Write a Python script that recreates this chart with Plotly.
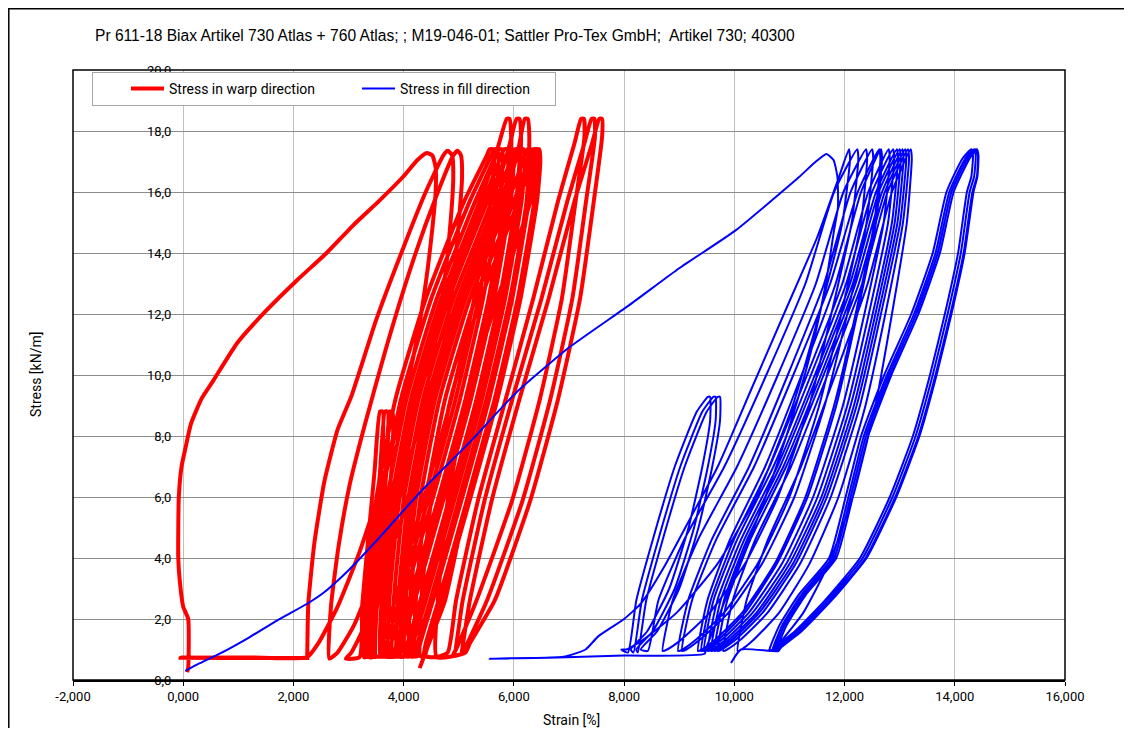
import plotly.graph_objects as go

# ---------------- data (strain [%], stress [kN/m]) ----------------
x_tick_values = [-2, 0, 2, 4, 6, 8, 10, 12, 14, 16]
x_tick_labels = ["-2,000", "0,000", "2,000", "4,000", "6,000", "8,000", "10,000", "12,000", "14,000", "16,000"]
y_tick_values = [0, 2, 4, 6, 8, 10, 12, 14, 16, 18, 20]
y_tick_labels = ["0,0", "2,0", "4,0", "6,0", "8,0", "10,0", "12,0", "14,0", "16,0", "18,0", "20,0"]

warp_initial = [(0.07, 0.26), (0.09, 0.40), (0.09, 2.00), (0.0, 2.40), (-0.06, 3.20), (-0.09, 4.00), (-0.08, 6.00),
                (-0.03, 7.00), (0.04, 7.60), (0.14, 8.40), (0.34, 9.25), (0.54, 9.80), (0.98, 11.05), (1.50, 12.10),
                (2.06, 13.10), (2.60, 14.00), (3.08, 14.90), (3.55, 15.70), (3.99, 16.50), (4.25, 17.05), (4.42, 17.28),
                (4.52, 17.20), (4.58, 16.80), (4.58, 16.00), (4.52, 14.80), (4.40, 13.00), (4.22, 11.00), (3.95, 8.80),
                (3.60, 6.40), (3.20, 4.20), (2.80, 2.40), (2.45, 1.20), (2.25, 0.75), (1.20, 0.74), (-0.05, 0.73),
                (1.50, 0.72), (2.25, 0.72)]

warp_left_loops = [(2.25, 0.72), (2.27, 2.50), (2.38, 4.50), (2.56, 6.50), (2.80, 8.20), (3.05, 9.30), (3.50, 11.80),
                   (4.00, 14.20), (4.40, 16.00), (4.72, 17.20), (4.80, 17.35), (4.88, 17.20), (4.90, 16.50),
                   (4.85, 15.00), (4.72, 12.80), (4.52, 10.50), (4.25, 8.20), (3.90, 5.80), (3.50, 3.60), (3.10, 1.80),
                   (2.80, 0.90), (2.65, 0.70),
                   (2.68, 2.40), (2.82, 4.40), (3.02, 6.40), (3.30, 8.40), (3.70, 11.00), (4.18, 13.80), (4.60, 15.90),
                   (4.90, 17.20), (4.98, 17.35), (5.04, 17.20), (5.06, 16.50), (5.00, 15.00), (4.88, 12.80),
                   (4.68, 10.50), (4.40, 8.20), (4.05, 5.80), (3.65, 3.60), (3.30, 1.80), (3.05, 0.90), (2.95, 0.70)]

warp_small_loops = [(3.20, 0.75), (3.25, 2.50), (3.35, 4.50), (3.47, 6.80), (3.57, 8.80), (3.62, 8.80), (3.62, 7.60),
                    (3.55, 5.80), (3.45, 4.00), (3.33, 2.30), (3.25, 1.00), (3.28, 0.75),
                    (3.30, 0.75), (3.35, 2.50), (3.45, 4.50), (3.57, 6.80), (3.66, 8.80), (3.71, 8.80), (3.71, 7.60),
                    (3.64, 5.80), (3.54, 4.00), (3.42, 2.30), (3.35, 1.00), (3.38, 0.75),
                    (3.40, 0.75), (3.45, 2.50), (3.55, 4.50), (3.67, 6.80), (3.75, 8.80), (3.80, 8.80), (3.80, 7.60),
                    (3.73, 5.80), (3.63, 4.00), (3.51, 2.30), (3.45, 1.00), (3.45, 0.75)]

warp_main_loops = [
    (3.30, 0.78), (3.32, 2.6), (3.50, 5.9), (3.85, 9.2), (4.40, 12.5), (5.10, 15.7), (5.51, 17.2), (5.56, 17.4), (5.62, 17.4), (5.64, 17.0), (5.58, 15.7), (5.28, 12.5), (4.86, 9.2), (4.36, 5.9), (3.84, 2.6), (3.61, 1.2), (3.56, 0.78),
    (3.40, 0.78), (3.42, 2.6), (3.60, 5.9), (3.95, 9.2), (4.50, 12.5), (5.20, 15.7), (5.59, 17.2), (5.64, 17.4), (5.70, 17.4), (5.72, 17.0), (5.66, 15.7), (5.36, 12.5), (4.94, 9.2), (4.44, 5.9), (3.92, 2.6), (3.69, 1.2), (3.64, 0.78),
    (3.50, 0.78), (3.52, 2.6), (3.70, 5.9), (4.05, 9.2), (4.60, 12.5), (5.30, 15.7), (5.67, 17.2), (5.72, 17.4), (5.78, 17.4), (5.80, 17.0), (5.74, 15.7), (5.44, 12.5), (5.02, 9.2), (4.52, 5.9), (4.00, 2.6), (3.77, 1.2), (3.72, 0.78),
    (3.58, 0.78), (3.60, 2.6), (3.78, 5.9), (4.13, 9.2), (4.68, 12.5), (5.38, 15.7), (5.70, 17.4), (5.87, 18.4), (5.92, 18.4), (5.95, 17.8), (5.90, 15.7), (5.60, 12.5), (5.17, 9.2), (4.67, 5.9), (4.15, 2.6), (3.92, 1.2), (3.87, 0.78),
    (3.65, 0.78), (3.67, 2.6), (3.85, 5.9), (4.20, 9.2), (4.75, 12.5), (5.45, 15.7), (5.77, 17.2), (5.82, 17.4), (5.88, 17.4), (5.90, 17.0), (5.84, 15.7), (5.54, 12.5), (5.12, 9.2), (4.62, 5.9), (4.10, 2.6), (3.87, 1.2), (3.82, 0.78),
    (3.72, 0.78), (3.74, 2.6), (3.92, 5.9), (4.27, 9.2), (4.82, 12.5), (5.52, 15.7), (5.87, 17.2), (5.92, 17.4), (5.98, 17.4), (6.00, 17.0), (5.94, 15.7), (5.64, 12.5), (5.22, 9.2), (4.72, 5.9), (4.20, 2.6), (3.97, 1.2), (3.92, 0.78),
    (3.80, 0.78), (3.82, 2.6), (4.00, 5.9), (4.35, 9.2), (4.90, 12.5), (5.60, 15.7), (5.90, 17.4), (6.05, 18.4), (6.10, 18.4), (6.13, 17.8), (6.08, 15.7), (5.78, 12.5), (5.35, 9.2), (4.85, 5.9), (4.33, 2.6), (4.10, 1.2), (4.05, 0.78),
    (3.88, 0.78), (3.90, 2.6), (4.08, 5.9), (4.43, 9.2), (4.98, 12.5), (5.68, 15.7), (5.97, 17.2), (6.02, 17.4), (6.08, 17.4), (6.10, 17.0), (6.04, 15.7), (5.74, 12.5), (5.32, 9.2), (4.82, 5.9), (4.30, 2.6), (4.07, 1.2), (4.02, 0.78),
    (3.95, 0.78), (3.97, 2.6), (4.15, 5.9), (4.50, 9.2), (5.05, 12.5), (5.75, 15.7), (6.07, 17.2), (6.12, 17.4), (6.18, 17.4), (6.20, 17.0), (6.14, 15.7), (5.84, 12.5), (5.42, 9.2), (4.92, 5.9), (4.40, 2.6), (4.17, 1.2), (4.12, 0.78),
    (4.02, 0.78), (4.04, 2.6), (4.22, 5.9), (4.57, 9.2), (5.12, 12.5), (5.82, 15.7), (6.08, 17.4), (6.20, 18.4), (6.25, 18.4), (6.28, 17.8), (6.23, 15.7), (5.93, 12.5), (5.50, 9.2), (5.00, 5.9), (4.48, 2.6), (4.25, 1.2), (4.20, 0.78),
    (4.10, 0.78), (4.12, 2.6), (4.30, 5.9), (4.65, 9.2), (5.20, 12.5), (5.90, 15.7), (6.20, 17.2), (6.25, 17.4), (6.31, 17.4), (6.33, 17.0), (6.27, 15.7), (5.97, 12.5), (5.55, 9.2), (5.05, 5.9), (4.53, 2.6), (4.30, 1.2), (4.25, 0.78),
    (4.20, 0.78), (4.22, 2.6), (4.40, 5.9), (4.75, 9.2), (5.30, 12.5), (6.00, 15.7), (6.30, 17.2), (6.35, 17.4), (6.41, 17.4), (6.43, 17.0), (6.37, 15.7), (6.07, 12.5), (5.65, 9.2), (5.15, 5.9), (4.63, 2.6), (4.40, 1.2), (4.35, 0.78),
    (4.30, 0.78), (4.32, 2.6), (4.50, 5.9), (4.85, 9.2), (5.40, 12.5), (6.08, 15.7), (6.35, 17.2), (6.40, 17.4), (6.46, 17.4), (6.48, 17.0), (6.42, 15.7), (6.12, 12.5), (5.70, 9.2), (5.20, 5.9), (4.68, 2.6), (4.45, 1.2), (4.40, 0.78),
]

warp_right_loops = [
    (4.60, 0.75), (4.80, 0.90), (4.95, 2.6), (5.35, 5.9), (5.85, 9.2), (6.35, 12.5), (6.80, 15.7), (7.10, 17.6), (7.22, 18.4), (7.27, 18.4), (7.28, 17.8), (7.12, 15.7), (6.87, 12.5), (6.47, 9.2), (5.97, 5.9), (5.32, 2.6), (4.95, 1.0), (4.90, 0.85),
    (4.92, 0.85), (5.07, 2.6), (5.47, 5.9), (5.97, 9.2), (6.50, 12.5), (6.97, 15.7), (7.28, 17.6), (7.41, 18.4), (7.46, 18.4), (7.47, 17.8), (7.31, 15.7), (7.06, 12.5), (6.66, 9.2), (6.16, 5.9), (5.51, 2.6), (5.10, 1.0), (5.05, 0.85),
    (5.05, 0.85), (5.20, 2.6), (5.60, 5.9), (6.10, 9.2), (6.63, 12.5), (7.10, 15.7), (7.42, 17.6), (7.55, 18.4), (7.60, 18.4), (7.60, 17.8), (7.45, 15.7), (7.20, 12.5), (6.80, 9.2), (6.30, 5.9), (5.65, 2.6), (5.20, 1.2), (5.12, 0.9),
]

warp_final = [(4.60, 0.75), (4.62, 2.6), (4.80, 5.9), (5.15, 9.2), (5.70, 12.5), (6.30, 15.7), (6.40, 17.4), (6.45, 17.4),
              (6.47, 17.0), (6.40, 15.7), (6.10, 12.5), (5.65, 9.2), (5.15, 5.9), (4.75, 2.6), (4.53, 1.54), (4.29, 0.39)]

fill_initial = [(0.04, 0.30), (0.30, 0.55), (0.67, 0.87), (1.20, 1.40), (1.70, 1.95), (2.25, 2.50), (2.54, 2.85),
                (3.00, 3.60), (3.57, 4.69), (4.29, 6.14), (5.20, 7.80), (6.04, 9.42), (7.00, 10.90), (8.10, 12.30),
                (9.00, 13.50), (10.03, 14.75), (11.18, 16.50), (11.45, 16.95), (11.67, 17.25), (11.80, 17.05),
                (11.87, 16.50), (11.88, 15.50), (11.81, 14.75), (11.67, 13.10), (11.45, 11.20), (11.15, 9.20),
                (10.80, 7.20), (10.40, 5.20), (10.00, 3.40), (9.70, 2.00), (9.50, 1.10), (9.46, 0.86), (8.00, 0.80),
                (6.80, 0.74), (5.56, 0.70), (6.30, 0.72), (6.90, 0.76), (7.30, 1.00), (7.53, 1.43), (8.00, 2.00),
                (8.31, 2.52), (8.73, 3.72), (9.20, 5.30), (9.70, 7.00), (10.30, 9.50), (10.90, 12.00), (11.50, 14.50),
                (11.90, 16.50), (12.08, 17.40), (12.10, 17.10), (11.96, 15.00), (11.54, 12.00), (11.06, 9.00),
                (10.40, 6.00), (9.69, 3.80), (8.95, 2.20), (8.33, 1.30), (8.04, 1.00), (7.95, 1.00)]

fill_small_loops = [(8.07, 0.90), (8.22, 2.60), (8.52, 4.60), (8.92, 7.00), (9.32, 8.80), (9.52, 9.28), (9.56, 9.28),
                    (9.56, 8.50), (9.42, 7.00), (9.17, 5.00), (8.82, 3.00), (8.42, 1.60), (8.12, 1.00),
                    (8.17, 0.90), (8.32, 2.60), (8.62, 4.60), (9.02, 7.00), (9.42, 8.80), (9.62, 9.28), (9.66, 9.28),
                    (9.66, 8.50), (9.52, 7.00), (9.27, 5.00), (8.92, 3.00), (8.52, 1.60), (8.22, 1.00),
                    (8.25, 0.90), (8.40, 2.60), (8.70, 4.60), (9.10, 7.00), (9.50, 8.80), (9.70, 9.28), (9.74, 9.28),
                    (9.74, 8.50), (9.60, 7.00), (9.35, 5.00), (9.00, 3.00), (8.60, 1.60), (8.30, 1.00)]

fill_main_loops = [
    (8.43, 0.95), (8.62, 2.60), (9.09, 4.60), (9.82, 7.00), (10.58, 10.00), (11.29, 13.00), (11.81, 16.00), (12.23, 17.40), (12.25, 17.10), (12.13, 15.00), (11.76, 12.00), (11.36, 9.00), (10.79, 6.00), (10.19, 3.80), (9.55, 2.20), (9.02, 1.30), (8.78, 1.00),
    (8.70, 0.95), (8.88, 2.60), (9.34, 4.60), (10.05, 7.00), (10.79, 10.00), (11.48, 13.00), (11.98, 16.00), (12.39, 17.40), (12.41, 17.10), (12.30, 15.00), (11.94, 12.00), (11.54, 9.00), (11.00, 6.00), (10.42, 3.80), (9.81, 2.20), (9.29, 1.30), (9.06, 1.00),
    (8.98, 0.95), (9.16, 2.60), (9.59, 4.60), (10.27, 7.00), (10.97, 10.00), (11.63, 13.00), (12.11, 16.00), (12.50, 17.40), (12.52, 17.10), (12.40, 15.00), (12.05, 12.00), (11.64, 9.00), (11.09, 6.00), (10.50, 3.80), (9.89, 2.20), (9.36, 1.30), (9.13, 1.00),
    (9.05, 0.95), (9.23, 2.60), (9.67, 4.60), (10.36, 7.00), (11.07, 10.00), (11.74, 13.00), (12.24, 16.00), (12.63, 17.40), (12.65, 17.10), (12.54, 15.00), (12.20, 12.00), (11.81, 9.00), (11.29, 6.00), (10.73, 3.80), (10.14, 2.20), (9.64, 1.30), (9.41, 1.00),
    (9.34, 0.95), (9.51, 2.60), (9.92, 4.60), (10.56, 7.00), (11.22, 10.00), (11.84, 13.00), (12.30, 16.00), (12.66, 17.40), (12.68, 17.10), (12.57, 15.00), (12.23, 12.00), (11.85, 9.00), (11.33, 6.00), (10.77, 3.80), (10.19, 2.20), (9.70, 1.30), (9.47, 1.00),
    (9.40, 0.95), (9.57, 2.60), (9.99, 4.60), (10.64, 7.00), (11.32, 10.00), (11.96, 13.00), (12.43, 16.00), (12.80, 17.40), (12.82, 17.10), (12.71, 15.00), (12.36, 12.00), (11.97, 9.00), (11.43, 6.00), (10.86, 3.80), (10.26, 2.20), (9.76, 1.30), (9.52, 1.00),
    (9.45, 0.95), (9.62, 2.60), (10.05, 4.60), (10.71, 7.00), (11.39, 10.00), (12.03, 13.00), (12.50, 16.00), (12.88, 17.40), (12.90, 17.10), (12.79, 15.00), (12.44, 12.00), (12.05, 9.00), (11.51, 6.00), (10.94, 3.80), (10.33, 2.20), (9.83, 1.30), (9.59, 1.00),
    (9.52, 0.95), (9.69, 2.60), (10.12, 4.60), (10.78, 7.00), (11.46, 10.00), (12.10, 13.00), (12.57, 16.00), (12.95, 17.40), (12.97, 17.10), (12.86, 15.00), (12.51, 12.00), (12.11, 9.00), (11.58, 6.00), (11.00, 3.80), (10.40, 2.20), (9.89, 1.30), (9.65, 1.00),
    (9.58, 0.95), (9.75, 2.60), (10.18, 4.60), (10.83, 7.00), (11.51, 10.00), (12.15, 13.00), (12.62, 16.00), (13.00, 17.40), (13.02, 17.10), (12.91, 15.00), (12.56, 12.00), (12.17, 9.00), (11.63, 6.00), (11.06, 3.80), (10.45, 2.20), (9.95, 1.30), (9.71, 1.00),
    (9.64, 0.95), (9.81, 2.60), (10.23, 4.60), (10.89, 7.00), (11.57, 10.00), (12.20, 13.00), (12.68, 16.00), (13.05, 17.40), (13.07, 17.10), (12.96, 15.00), (12.61, 12.00), (12.22, 9.00), (11.68, 6.00), (11.11, 3.80), (10.51, 2.20), (10.01, 1.30), (9.77, 1.00),
    (9.70, 0.95), (9.87, 2.60), (10.29, 4.60), (10.94, 7.00), (11.62, 10.00), (12.26, 13.00), (12.73, 16.00), (13.10, 17.40), (13.12, 17.10), (13.01, 15.00), (12.66, 12.00), (12.28, 9.00), (11.75, 6.00), (11.19, 3.80), (10.60, 2.20), (10.10, 1.30), (9.87, 1.00),
    (9.80, 0.95), (9.97, 2.60), (10.38, 4.60), (11.03, 7.00), (11.69, 10.00), (12.32, 13.00), (12.78, 16.00), (13.15, 17.40), (13.17, 17.10), (13.06, 15.00), (12.74, 12.00), (12.38, 9.00), (11.89, 6.00), (11.36, 3.80), (10.81, 2.20), (10.34, 1.30), (10.13, 1.00),
    (10.06, 0.95), (10.22, 2.60), (10.61, 4.60), (11.21, 7.00), (11.83, 10.00), (12.42, 13.00), (12.86, 16.00), (13.20, 17.40), (13.22, 17.10), (13.13, 15.00), (12.86, 12.00), (12.56, 9.00), (12.15, 6.00), (11.71, 3.80), (11.25, 2.20), (10.86, 1.30), (10.69, 1.00),
]

fill_big_loops = [
    (10.63, 0.95), (10.82, 1.8), (11.17, 2.8), (11.72, 4.0), (12.02, 6.0), (12.30, 8.0), (12.72, 10.0), (13.21, 12.0), (13.60, 14.0), (13.85, 16.0), (14.14, 17.1), (14.30, 17.4),
    (14.33, 17.2), (14.30, 16.5), (14.22, 16.0), (14.06, 14.0), (13.82, 12.0), (13.55, 10.0), (13.24, 8.0), (12.82, 6.0), (12.28, 4.0), (11.64, 2.6), (11.10, 1.6), (10.72, 1.05),
    (10.68, 0.95), (10.87, 1.8), (11.22, 2.8), (11.77, 4.0), (12.07, 6.0), (12.35, 8.0), (12.77, 10.0), (13.26, 12.0), (13.65, 14.0), (13.90, 16.0), (14.19, 17.1), (14.35, 17.4),
    (14.38, 17.2), (14.35, 16.5), (14.27, 16.0), (14.11, 14.0), (13.87, 12.0), (13.60, 10.0), (13.29, 8.0), (12.87, 6.0), (12.33, 4.0), (11.69, 2.6), (11.15, 1.6), (10.77, 1.05),
    (10.72, 0.95), (10.91, 1.8), (11.26, 2.8), (11.81, 4.0), (12.11, 6.0), (12.39, 8.0), (12.81, 10.0), (13.30, 12.0), (13.69, 14.0), (13.94, 16.0), (14.23, 17.1), (14.38, 17.4),
    (14.42, 17.2), (14.40, 16.5), (14.32, 16.0), (14.16, 14.0), (13.92, 12.0), (13.65, 10.0), (13.34, 8.0), (12.92, 6.0), (12.38, 4.0), (11.74, 2.6), (11.20, 1.6), (10.82, 1.05),
    (10.76, 0.95), (10.95, 1.8), (11.30, 2.8), (11.85, 4.0), (12.15, 6.0), (12.43, 8.0), (12.85, 10.0), (13.34, 12.0), (13.73, 14.0), (13.98, 16.0), (14.27, 17.1), (14.40, 17.4),
    (14.43, 17.2), (14.41, 16.5), (14.34, 16.0), (14.18, 14.0), (13.94, 12.0), (13.67, 10.0), (13.36, 8.0), (12.94, 6.0), (12.40, 4.0), (11.76, 2.6), (11.22, 1.6), (10.84, 1.05), (10.80, 0.95),
]

fill_final = [(10.12, 1.00), (9.94, 0.56)]

# ---------------- assemble series ----------------
warp_points = warp_initial + warp_left_loops + warp_small_loops + warp_main_loops + warp_right_loops + warp_final
fill_points = fill_initial + fill_small_loops + fill_main_loops + fill_big_loops + fill_final
warp_strain = [p[0] for p in warp_points]
warp_stress = [p[1] for p in warp_points]
fill_strain = [p[0] for p in fill_points]
fill_stress = [p[1] for p in fill_points]

fig = go.Figure()
fig.add_trace(go.Scatter(x=warp_strain, y=warp_stress, mode="lines", name="Stress in warp direction",
                         line=dict(color="#FF0000", width=4, shape="spline", smoothing=0.5)))
fig.add_trace(go.Scatter(x=fill_strain, y=fill_stress, mode="lines", name="Stress in fill direction",
                         line=dict(color="#0000FF", width=2, shape="spline", smoothing=0.5)))

# page offset of the figure (browser body margin)
OFF = 8
W, H = 1116, 720
L, T = 73 - OFF, 70 - OFF
PW, PH = 992, 610
R = W - L - PW
B = H - T - PH


def px_x(px):
    return (px - OFF - L) / PW


def px_y(py):
    return (T + PH - (py - OFF)) / PH


fig.update_layout(
    width=W, height=H,
    margin=dict(l=L, r=R, t=T, b=B, pad=0),
    paper_bgcolor="white", plot_bgcolor="white",
    font=dict(family="Roboto, Noto Sans, sans-serif", size=13, color="black"),
    showlegend=True,
    legend=dict(orientation="h", x=px_x(92), y=px_y(72), xanchor="left", yanchor="top",
                bgcolor="white", bordercolor="#a6a6a6", borderwidth=1,
                font=dict(family="Roboto, sans-serif", size=14, color="black"),
                entrywidth=150, itemwidth=33, indentation=33, tracegroupgap=0),
    xaxis=dict(range=[-2, 16], tickmode="array", tickvals=x_tick_values, ticktext=x_tick_labels,
               showgrid=True, gridcolor="#c0c0c0", gridwidth=1, zeroline=False,
               showline=True, linecolor="black", linewidth=1.5, ticks="outside", ticklen=4,
               tickcolor="black", tickfont=dict(family="Roboto, sans-serif", size=13, color="black")),
    yaxis=dict(range=[0, 20], tickmode="array", tickvals=y_tick_values, ticktext=y_tick_labels,
               anchor="free", position=px_x(183), side="left",
               showgrid=True, gridcolor="#8c8c8c", gridwidth=1, zeroline=False,
               showline=False, ticks="outside", ticklen=9, tickcolor="rgba(0,0,0,0)",
               tickfont=dict(family="Roboto, sans-serif", size=13, color="black")),
    shapes=[
        dict(type="rect", xref="paper", yref="paper", x0=0, y0=0, x1=1, y1=1,
             line=dict(color="black", width=1.5), layer="above"),
        dict(type="rect", xref="paper", yref="paper", x0=px_x(8.8), y0=px_y(790), x1=px_x(1200), y1=px_y(8.8),
             line=dict(color="black", width=1.5), layer="above"),
    ],
    annotations=[
        dict(text="Pr 611-18 Biax Artikel 730 Atlas + 760 Atlas; ; M19-046-01; Sattler Pro-Tex GmbH;  Artikel 730; 40300",
             xref="paper", yref="paper", x=px_x(93), y=px_y(35), xanchor="left", yanchor="middle",
             showarrow=False, font=dict(family="Liberation Sans, Arial, sans-serif", size=15.6, color="black")),
        dict(text="Strain [%]", xref="paper", yref="paper", x=px_x(571), y=px_y(720), xanchor="center",
             yanchor="middle", showarrow=False, font=dict(family="Roboto, sans-serif", size=14, color="black")),
        dict(text="Stress [kN/m]", xref="paper", yref="paper", x=px_x(36), y=px_y(375), xanchor="center",
             yanchor="middle", textangle=-90, showarrow=False,
             font=dict(family="Roboto, sans-serif", size=14, color="black")),
    ],
)

fig.write_html("out.html")
